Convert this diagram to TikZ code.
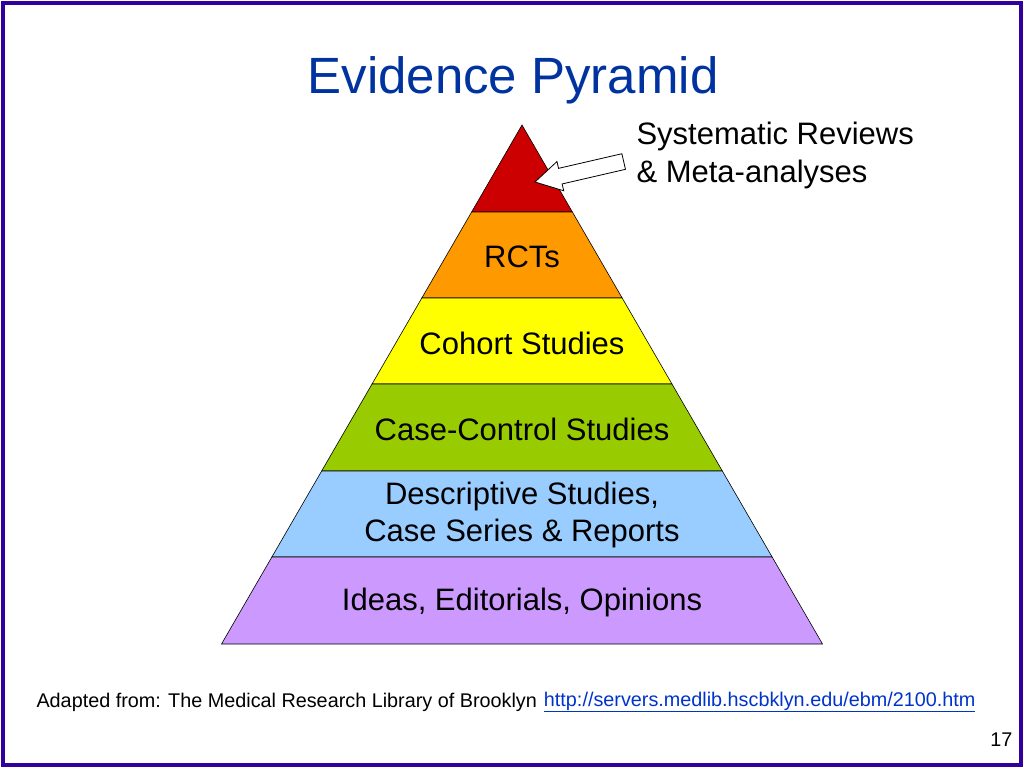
\documentclass[tikz,border=0pt]{standalone}
\usepackage{fontspec}
\setmainfont{Liberation Sans}
\usepackage{tikz}
\usetikzlibrary{positioning}
\definecolor{frameblue}{RGB}{51,0,153}
\definecolor{titleblue}{RGB}{0,51,160}
\definecolor{linkblue}{RGB}{0,51,204}
\tikzset{
  layertext/.style={font=\fontsize{31}{37}\selectfont, align=center},
  foottext/.style={font=\fontsize{19.8}{23}\selectfont},
}
\begin{document}
\begin{tikzpicture}[x=1pt,y=-1pt]
\useasboundingbox (0,0) rectangle (1024,768);
% frame
\draw [frameblue, line width=4pt] (3,3) rectangle (1021,765);
% title
\node (title) at (513,80) [titleblue, font=\fontsize{51}{55}\selectfont] {Evidence Pyramid};
% pyramid layers
\foreach \ytop/\ybot/\col in {125/212/{rgb,255:red,204;green,0;blue,0},212/298/{rgb,255:red,255;green,153;blue,0},298/384/{rgb,255:red,255;green,255;blue,0},384/471/{rgb,255:red,153;green,204;blue,0},471/557/{rgb,255:red,153;green,204;blue,255},557/644/{rgb,255:red,204;green,153;blue,255}}
  \draw [fill={\col}, line width=0.6pt] ({522-0.579*(\ytop-125)},\ytop) -- ({522+0.579*(\ytop-125)},\ytop) -- ({522+0.579*(\ybot-125)},\ybot) -- ({522-0.579*(\ybot-125)},\ybot) -- cycle;
% layer labels
\node (rct) at (522,257) [layertext] {RCTs};
\node (cohort) at (522,343) [layertext] {Cohort Studies};
\node (casecontrol) at (522,429) [layertext] {Case-Control Studies};
\node (descriptive) at (522,515) [layertext] {Descriptive Studies,\\Case Series \& Reports};
\node (ideas) at (522,602) [layertext] {Ideas, Editorials, Opinions};
% top label
\node (sysrev) at (633,155) [anchor=west, font=\fontsize{31}{38}\selectfont, align=left] {Systematic Reviews\\\& Meta-analyses};
% block arrow
\begin{scope}[shift={(535,182)}, rotate=13]
\draw [fill=white, line width=0.8pt] (0,0) -- (26,-15) -- (26,-8) -- (91,-8) -- (91,8) -- (26,8) -- (26,15) -- cycle;
\end{scope}
% footer
\node (source) at (33,702) [anchor=west, foottext] {Adapted from: The Medical Research Library of Brooklyn};
\node (link) [right=0pt of source, linkblue, foottext] {\underline{http://servers.medlib.hscbklyn.edu/ebm/2100.htm}};
\node (page) at (1016,740) [anchor=east, foottext] {17};
\end{tikzpicture}
\end{document}
